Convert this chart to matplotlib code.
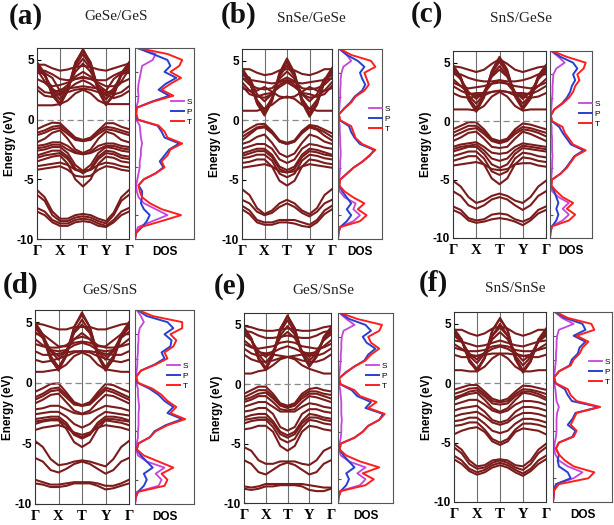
import numpy as np
import matplotlib
matplotlib.use('Agg')
import matplotlib.pyplot as plt

plt.rcParams['font.family'] = ['Liberation Sans', 'DejaVu Sans']

# ---------------- data ----------------
# k-path Γ - X - T - Y - Γ, three steps per segment
kpath = [0, 1/3, 2/3, 1, 4/3, 5/3, 2, 7/3, 8/3, 3, 10/3, 11/3, 4]
klabels = ['Γ', 'X', 'T', 'Y', 'Γ']
energy = np.arange(-10, 6.01, 0.5)                    # DOS energy grid (eV)

# (a) GeSe/GeS
a_cb = [[4.8, 3.9, 2.1, 1.2, 2.4, 4.7, 5.9, 4.7, 2.4, 1.2, 2.1, 3.9, 4.8],
        [4.7, 3.8, 2.0, 1.3, 2.5, 4.8, 5.8, 4.8, 2.5, 1.3, 2.0, 3.8, 4.7],
        [4.6, 3.8, 2.2, 1.4, 2.4, 4.5, 5.5, 4.5, 2.4, 1.3, 2.1, 3.8, 4.6],
        [4.4, 3.7, 2.4, 1.7, 2.6, 4.3, 5.1, 4.3, 2.6, 1.7, 2.4, 3.8, 4.5],
        [4.3, 3.7, 2.6, 2.0, 2.7, 4.0, 4.7, 4.0, 2.7, 2.0, 2.6, 3.7, 4.3],
        [4.0, 4.1, 3.8, 3.4, 3.3, 3.4, 3.6, 3.4, 3.3, 3.3, 3.7, 4.0, 4.0],
        [3.9, 3.9, 3.5, 2.4, 2.9, 3.6, 4.0, 3.6, 2.9, 2.4, 3.4, 3.9, 3.9],
        [4.2, 3.2, 2.8, 2.9, 3.1, 3.4, 3.5, 3.4, 3.1, 2.8, 2.8, 3.2, 4.2],
        [3.4, 3.1, 2.5, 2.3, 2.5, 3.0, 3.3, 3.0, 2.5, 2.2, 2.5, 3.1, 3.4],
        [2.8, 2.3, 2.2, 2.5, 2.6, 2.7, 2.8, 2.7, 2.6, 2.4, 2.1, 2.3, 2.8],
        [2.5, 2.0, 1.9, 2.2, 2.3, 2.5, 2.6, 2.5, 2.3, 2.1, 1.8, 2.0, 2.4],
        [4.6, 4.6, 4.3, 4.1, 4.2, 4.4, 4.5, 4.4, 4.2, 4.1, 4.3, 4.5, 4.7],
        [1.2, 1.2, 1.2, 1.3, 1.6, 2.2, 2.5, 2.2, 1.6, 1.3, 1.3, 1.3, 1.3]]
a_vb = [[-0.8, -0.5, -0.25, -0.3, -0.9, -1.5, -1.7, -1.5, -0.9, -0.3, -0.3, -0.6, -0.8],
        [-1.1, -0.9, -0.6, -0.5, -1.0, -1.6, -1.8, -1.6, -1.0, -0.6, -0.7, -0.9, -1.1],
        [-1.3, -1.1, -0.8, -0.7, -1.2, -1.7, -1.8, -1.7, -1.2, -0.8, -0.9, -1.1, -1.3],
        [-1.9, -1.6, -1.1, -0.9, -1.6, -2.5, -2.8, -2.5, -1.6, -1.0, -1.2, -1.7, -1.9],
        [-2.2, -2.1, -1.9, -1.9, -2.2, -2.7, -2.9, -2.7, -2.2, -2.0, -2.0, -2.2, -2.3],
        [-2.4, -2.3, -2.1, -2.1, -2.5, -2.8, -2.9, -2.8, -2.5, -2.2, -2.2, -2.4, -2.5],
        [-2.6, -2.5, -2.3, -2.3, -2.8, -3.8, -4.3, -3.8, -2.8, -2.3, -2.4, -2.6, -2.7],
        [-3.0, -2.8, -2.6, -2.6, -3.1, -4.1, -4.5, -4.1, -3.1, -2.6, -2.7, -3.0, -3.1],
        [-3.2, -3.0, -2.9, -2.8, -3.3, -4.2, -4.4, -4.2, -3.3, -2.8, -2.9, -3.2, -3.3],
        [-3.5, -3.3, -3.1, -3.0, -3.7, -5.0, -5.6, -5.0, -3.7, -3.1, -3.2, -3.5, -3.6],
        [-3.9, -3.8, -3.7, -3.6, -3.8, -4.2, -4.3, -4.2, -3.8, -3.6, -3.7, -3.9, -4.0],
        [-4.2, -4.1, -4.0, -3.9, -4.2, -4.7, -4.8, -4.7, -4.2, -3.9, -4.0, -4.2, -4.3],
        [-5.9, -6.5, -7.7, -8.3, -8.3, -8.0, -7.9, -8.0, -8.3, -8.5, -7.8, -6.5, -5.9],
        [-6.3, -6.8, -8.0, -8.5, -8.5, -8.2, -8.1, -8.2, -8.5, -8.7, -8.0, -6.8, -6.3],
        [-7.4, -7.7, -8.4, -8.7, -8.7, -8.4, -8.3, -8.4, -8.7, -8.9, -8.4, -7.7, -7.4],
        [-7.7, -8.0, -8.6, -8.9, -8.9, -8.6, -8.5, -8.6, -8.9, -9.0, -8.6, -8.0, -7.7]]
a_dos_t = [0, 0.02, 0.1, 0.45, 0.78, 0.45, 0.25, 0.12, 0.08, 0.06, 0.15, 0.35, 0.5, 0.45, 0.55, 0.6, 0.8,
           0.55, 0.5, 0.4, 0.05, 0.02, 0.03, 0.3, 0.65, 0.45, 0.6, 0.78, 0.6, 0.75, 0.8, 0.55, 0.05]
a_dos_p = [0, 0.02, 0.12, 0.2, 0.25, 0.15, 0.1, 0.12, 0.12, 0.06, 0.15, 0.35, 0.48, 0.42, 0.5, 0.58, 0.75,
           0.5, 0.45, 0.38, 0.04, 0.02, 0.03, 0.28, 0.58, 0.4, 0.52, 0.7, 0.5, 0.6, 0.55, 0.3, 0.04]
a_dos_s = [0, 0.01, 0.05, 0.3, 0.55, 0.35, 0.15, 0.06, 0.03, 0.02, 0.04, 0.06, 0.08, 0.08, 0.1, 0.1, 0.12,
           0.1, 0.09, 0.08, 0.02, 0.01, 0.02, 0.05, 0.06, 0.05, 0.06, 0.08, 0.1, 0.12, 0.3, 0.35, 0.05]

# (b) SnSe/GeSe
b_cb = [[4.4, 3.4, 1.4, 0.4, 1.6, 4.0, 5.2, 4.0, 1.5, 0.3, 1.3, 3.4, 4.4],
        [4.1, 3.2, 1.6, 0.7, 1.9, 3.9, 5.0, 3.9, 1.8, 0.6, 1.5, 3.2, 4.1],
        [4.2, 3.3, 1.5, 0.6, 1.7, 3.8, 4.9, 3.8, 1.6, 0.5, 1.4, 3.3, 4.2],
        [4.0, 3.2, 1.7, 0.9, 1.8, 3.7, 4.6, 3.7, 1.8, 0.9, 1.7, 3.2, 4.0],
        [3.8, 3.6, 2.2, 1.6, 2.2, 3.5, 4.1, 3.5, 2.2, 1.6, 2.2, 3.5, 3.8],
        [3.5, 3.4, 3.3, 3.2, 3.1, 3.2, 3.4, 3.2, 3.1, 3.2, 3.3, 3.4, 3.5],
        [3.6, 3.0, 2.7, 2.6, 2.7, 3.3, 3.6, 3.3, 2.7, 2.6, 2.7, 3.0, 3.6],
        [3.2, 2.5, 2.0, 1.9, 2.2, 3.0, 3.3, 3.0, 2.2, 1.9, 2.0, 2.5, 3.2],
        [2.9, 2.2, 2.0, 2.2, 2.3, 2.8, 3.2, 2.8, 2.3, 2.2, 2.0, 2.2, 2.9],
        [2.7, 2.5, 2.5, 2.8, 2.4, 2.0, 1.9, 2.0, 2.4, 2.8, 2.5, 2.5, 2.7],
        [0.8, 0.8, 0.8, 1.0, 1.3, 1.8, 2.0, 1.8, 1.3, 1.0, 0.8, 0.8, 0.8],
        [4.3, 4.3, 4.0, 3.8, 3.9, 4.2, 4.3, 4.2, 3.9, 3.8, 4.0, 4.3, 4.3]]
b_vb = [[-1.1, -0.7, -0.35, -0.3, -0.9, -1.7, -1.9, -1.7, -0.9, -0.4, -0.5, -0.8, -1.1],
        [-1.4, -1.0, -0.6, -0.5, -1.0, -1.8, -2.0, -1.8, -1.0, -0.5, -0.7, -1.0, -1.4],
        [-1.7, -1.2, -0.7, -0.6, -1.1, -1.8, -2.0, -1.8, -1.1, -0.6, -0.8, -1.3, -1.7],
        [-2.0, -1.8, -1.4, -1.2, -1.9, -2.8, -3.1, -2.8, -1.9, -1.2, -1.4, -1.8, -2.0],
        [-2.4, -2.2, -2.0, -2.0, -2.4, -3.3, -3.6, -3.3, -2.4, -2.0, -2.1, -2.3, -2.4],
        [-2.8, -2.6, -2.4, -2.4, -2.9, -3.9, -4.2, -3.9, -2.9, -2.4, -2.5, -2.7, -2.9],
        [-3.0, -2.8, -2.6, -2.6, -3.1, -4.1, -4.4, -4.1, -3.1, -2.6, -2.7, -2.9, -3.0],
        [-3.2, -3.1, -2.9, -2.9, -3.4, -4.5, -4.8, -4.5, -3.4, -2.9, -3.0, -3.2, -3.3],
        [-3.6, -3.5, -3.3, -3.3, -3.9, -5.1, -5.5, -5.1, -3.9, -3.3, -3.4, -3.6, -3.7],
        [-4.0, -3.9, -3.8, -3.7, -3.9, -4.3, -4.4, -4.3, -3.9, -3.7, -3.8, -3.9, -4.0],
        [-5.8, -6.3, -7.4, -7.9, -7.6, -7.0, -6.7, -7.0, -7.6, -7.9, -7.4, -6.3, -5.8],
        [-6.7, -7.0, -7.7, -8.0, -7.8, -7.3, -7.0, -7.3, -7.8, -8.1, -7.7, -7.0, -6.7],
        [-7.2, -7.6, -8.4, -8.6, -8.6, -8.4, -8.4, -8.4, -8.6, -8.8, -8.4, -7.6, -7.2],
        [-7.5, -7.9, -8.6, -8.8, -8.8, -8.6, -8.6, -8.7, -8.9, -9.0, -8.6, -7.9, -7.5]]
b_dos_t = [0, 0.01, 0.05, 0.5, 0.65, 0.45, 0.6, 0.35, 0.15, 0.03, 0.05, 0.2, 0.35, 0.55, 0.7, 0.85, 0.55,
           0.4, 0.35, 0.3, 0.05, 0.02, 0.15, 0.3, 0.4, 0.6, 0.7, 0.65, 0.6, 0.85, 0.75, 0.3, 0.05]
b_dos_p = [0, 0.01, 0.05, 0.2, 0.3, 0.2, 0.3, 0.2, 0.1, 0.03, 0.05, 0.2, 0.35, 0.55, 0.72, 0.82, 0.5,
           0.38, 0.3, 0.25, 0.04, 0.02, 0.14, 0.28, 0.38, 0.55, 0.62, 0.55, 0.5, 0.6, 0.45, 0.2, 0.04]
b_dos_s = [0, 0.01, 0.03, 0.35, 0.5, 0.35, 0.4, 0.15, 0.04, 0.02, 0.03, 0.04, 0.05, 0.05, 0.06, 0.06, 0.05,
           0.05, 0.04, 0.04, 0.02, 0.01, 0.03, 0.04, 0.05, 0.05, 0.06, 0.06, 0.08, 0.12, 0.3, 0.2, 0.03]

# (c) SnS/GeSe
c_cb = [[4.8, 3.8, 1.8, 0.8, 2.0, 4.3, 5.5, 4.4, 2.1, 1.0, 1.9, 3.9, 4.8],
        [4.5, 3.6, 1.9, 1.0, 2.2, 4.2, 5.2, 4.2, 2.2, 1.1, 2.0, 3.6, 4.5],
        [4.6, 3.7, 2.0, 1.1, 2.1, 4.1, 5.1, 4.1, 2.2, 1.2, 2.1, 3.8, 4.6],
        [4.4, 3.6, 2.2, 1.5, 2.3, 3.9, 4.7, 3.9, 2.3, 1.5, 2.2, 3.7, 4.4],
        [4.2, 3.6, 2.5, 1.9, 2.5, 3.8, 4.4, 3.8, 2.5, 1.9, 2.5, 3.6, 4.2],
        [4.0, 4.0, 3.7, 3.5, 3.4, 3.4, 3.5, 3.4, 3.4, 3.5, 3.7, 4.0, 4.0],
        [3.6, 3.0, 2.4, 2.2, 2.4, 3.2, 3.5, 3.2, 2.4, 2.2, 2.4, 3.0, 3.6],
        [3.3, 3.0, 2.8, 2.9, 3.0, 3.2, 3.3, 3.2, 3.0, 2.9, 2.8, 3.0, 3.3],
        [3.0, 2.6, 2.3, 2.4, 2.4, 2.5, 2.6, 2.5, 2.4, 2.4, 2.3, 2.6, 3.0],
        [2.4, 2.1, 2.0, 2.1, 2.2, 2.5, 2.6, 2.5, 2.2, 2.1, 2.0, 2.1, 2.4],
        [1.0, 1.0, 1.0, 0.9, 1.3, 2.1, 2.5, 2.1, 1.3, 0.9, 1.0, 1.0, 1.0],
        [4.7, 4.6, 4.4, 4.2, 4.4, 4.9, 5.3, 4.9, 4.4, 4.2, 4.4, 4.6, 4.7]]
c_vb = [[-0.7, -0.4, -0.1, -0.1, -0.7, -1.5, -1.7, -1.5, -0.7, -0.2, -0.3, -0.5, -0.7],
        [-1.0, -0.7, -0.4, -0.4, -0.9, -1.6, -1.8, -1.6, -0.9, -0.5, -0.6, -0.8, -1.0],
        [-1.3, -1.0, -0.7, -0.6, -1.1, -1.7, -1.9, -1.7, -1.1, -0.7, -0.8, -1.0, -1.3],
        [-1.7, -1.4, -1.0, -0.9, -1.5, -2.2, -2.3, -2.2, -1.5, -0.9, -1.1, -1.4, -1.7],
        [-2.2, -2.0, -1.9, -1.8, -2.2, -2.7, -2.8, -2.7, -2.2, -1.9, -2.0, -2.1, -2.2],
        [-2.4, -2.2, -2.1, -2.0, -2.5, -3.2, -3.4, -3.2, -2.5, -2.1, -2.2, -2.3, -2.4],
        [-2.6, -2.4, -2.2, -2.2, -2.8, -3.7, -4.0, -3.7, -2.8, -2.3, -2.4, -2.5, -2.6],
        [-3.0, -2.8, -2.6, -2.6, -3.2, -4.3, -4.6, -4.3, -3.2, -2.7, -2.8, -3.0, -3.1],
        [-3.4, -3.2, -3.0, -3.0, -3.7, -4.9, -5.4, -4.9, -3.7, -3.1, -3.2, -3.4, -3.5],
        [-3.8, -3.7, -3.6, -3.5, -3.7, -4.1, -4.2, -4.1, -3.7, -3.6, -3.6, -3.8, -3.9],
        [-5.1, -5.6, -6.5, -7.0, -6.8, -6.4, -6.2, -6.4, -6.8, -7.0, -6.5, -5.6, -5.1],
        [-6.0, -6.4, -7.2, -7.5, -7.2, -6.7, -6.5, -6.7, -7.2, -7.6, -7.2, -6.4, -6.0],
        [-7.3, -7.6, -8.3, -8.5, -8.4, -8.0, -7.9, -8.0, -8.4, -8.6, -8.3, -7.6, -7.3],
        [-7.6, -7.9, -8.5, -8.7, -8.6, -8.4, -8.3, -8.4, -8.6, -8.9, -8.5, -7.9, -7.6]]
c_dos_t = [0, 0.01, 0.05, 0.45, 0.6, 0.4, 0.55, 0.3, 0.15, 0.03, 0.05, 0.25, 0.4, 0.5, 0.6, 0.85, 0.55,
           0.45, 0.35, 0.3, 0.05, 0.02, 0.1, 0.3, 0.45, 0.55, 0.6, 0.7, 0.65, 0.8, 0.85, 0.4, 0.05]
c_dos_p = [0, 0.01, 0.05, 0.15, 0.2, 0.15, 0.2, 0.15, 0.1, 0.03, 0.05, 0.25, 0.38, 0.48, 0.58, 0.8, 0.5,
           0.4, 0.3, 0.22, 0.04, 0.02, 0.1, 0.28, 0.4, 0.48, 0.52, 0.6, 0.55, 0.65, 0.55, 0.25, 0.04]
c_dos_s = [0, 0.01, 0.03, 0.3, 0.45, 0.3, 0.45, 0.2, 0.05, 0.02, 0.03, 0.04, 0.05, 0.05, 0.06, 0.05, 0.05,
           0.05, 0.04, 0.04, 0.02, 0.01, 0.03, 0.04, 0.05, 0.06, 0.06, 0.07, 0.08, 0.15, 0.35, 0.2, 0.03]

# (d) GeS/SnS
d_cb = [[5.0, 4.0, 2.0, 1.0, 2.2, 4.6, 5.8, 4.6, 2.2, 1.0, 2.0, 4.0, 5.0],
        [4.7, 3.7, 1.9, 1.1, 2.4, 4.6, 5.6, 4.6, 2.4, 1.1, 1.9, 3.7, 4.7],
        [4.8, 3.9, 2.2, 1.3, 2.3, 4.2, 5.2, 4.2, 2.3, 1.3, 2.2, 3.9, 4.8],
        [4.5, 3.9, 2.6, 1.9, 2.6, 4.1, 4.8, 4.1, 2.6, 1.9, 2.6, 3.9, 4.5],
        [4.2, 3.7, 2.7, 2.2, 2.7, 3.6, 4.1, 3.6, 2.7, 2.2, 2.7, 3.7, 4.2],
        [4.0, 4.0, 3.5, 3.0, 3.0, 3.3, 3.4, 3.3, 3.0, 3.0, 3.5, 4.0, 4.0],
        [3.6, 3.1, 2.7, 2.6, 2.7, 3.1, 3.3, 3.1, 2.7, 2.6, 2.7, 3.1, 3.6],
        [3.2, 3.0, 2.9, 2.9, 3.1, 3.6, 3.8, 3.6, 3.1, 2.9, 2.9, 3.0, 3.2],
        [2.6, 2.3, 2.3, 2.4, 2.5, 2.6, 2.6, 2.6, 2.5, 2.4, 2.3, 2.3, 2.6],
        [1.9, 1.7, 1.8, 2.0, 2.2, 2.5, 2.6, 2.5, 2.2, 2.0, 1.8, 1.7, 1.9],
        [0.9, 0.9, 1.0, 1.1, 1.5, 2.2, 2.5, 2.2, 1.5, 1.1, 1.0, 0.9, 0.9],
        [4.9, 4.8, 4.6, 4.4, 4.4, 4.6, 4.6, 4.6, 4.4, 4.4, 4.6, 4.8, 4.9]]
d_vb = [[-0.75, -0.45, -0.1, -0.05, -0.8, -1.6, -1.85, -1.6, -0.8, -0.1, -0.2, -0.5, -0.75],
        [-1.2, -0.9, -0.5, -0.4, -1.0, -1.7, -1.9, -1.7, -1.0, -0.4, -0.6, -0.9, -1.2],
        [-1.4, -1.1, -0.7, -0.6, -1.2, -1.8, -1.9, -1.8, -1.2, -0.6, -0.8, -1.1, -1.4],
        [-1.7, -1.4, -1.0, -0.9, -1.6, -2.3, -2.55, -2.3, -1.6, -1.0, -1.1, -1.4, -1.7],
        [-2.2, -2.1, -1.9, -1.9, -2.2, -2.5, -2.6, -2.5, -2.2, -1.9, -2.0, -2.1, -2.3],
        [-2.6, -2.5, -2.4, -2.4, -2.8, -3.4, -3.7, -3.4, -2.8, -2.4, -2.5, -2.6, -2.7],
        [-3.0, -2.9, -2.8, -2.8, -3.3, -4.2, -4.5, -4.2, -3.3, -2.8, -2.8, -2.9, -3.1],
        [-3.2, -3.1, -3.0, -3.0, -3.5, -4.3, -4.6, -4.3, -3.5, -3.0, -3.0, -3.1, -3.2],
        [-3.4, -3.2, -3.1, -3.1, -3.8, -4.9, -5.3, -4.9, -3.8, -3.1, -3.2, -3.3, -3.5],
        [-3.9, -3.7, -3.6, -3.5, -3.7, -4.1, -4.3, -4.1, -3.7, -3.5, -3.6, -3.7, -3.9],
        [-4.8, -5.3, -6.3, -6.8, -6.7, -6.5, -6.4, -6.5, -6.7, -6.9, -6.3, -5.3, -4.8],
        [-6.2, -6.5, -7.2, -7.4, -7.1, -6.7, -6.5, -6.7, -7.1, -7.5, -7.2, -6.5, -6.2],
        [-8.0, -8.2, -8.4, -8.4, -8.3, -8.2, -8.2, -8.2, -8.3, -8.5, -8.5, -8.3, -8.0],
        [-8.3, -8.4, -8.6, -8.6, -8.5, -8.3, -8.3, -8.3, -8.5, -8.8, -8.7, -8.5, -8.3]]
d_dos_t = [0, 0.01, 0.05, 0.5, 0.55, 0.45, 0.65, 0.4, 0.15, 0.03, 0.06, 0.25, 0.35, 0.55, 0.85, 0.6, 0.7,
           0.55, 0.45, 0.3, 0.05, 0.02, 0.1, 0.35, 0.55, 0.5, 0.65, 0.7, 0.6, 0.8, 0.8, 0.3, 0.05]
d_dos_p = [0, 0.01, 0.05, 0.15, 0.2, 0.15, 0.3, 0.2, 0.1, 0.03, 0.06, 0.25, 0.33, 0.52, 0.8, 0.55, 0.65,
           0.5, 0.4, 0.25, 0.04, 0.02, 0.1, 0.33, 0.5, 0.45, 0.6, 0.62, 0.5, 0.65, 0.55, 0.2, 0.04]
d_dos_s = [0, 0.01, 0.03, 0.4, 0.45, 0.35, 0.5, 0.2, 0.05, 0.02, 0.03, 0.05, 0.05, 0.06, 0.06, 0.06, 0.07,
           0.06, 0.05, 0.05, 0.02, 0.01, 0.03, 0.04, 0.04, 0.05, 0.05, 0.06, 0.06, 0.08, 0.15, 0.1, 0.03]

# (e) GeS/SnSe
e_cb = [[4.8, 3.9, 2.1, 1.2, 2.4, 4.6, 5.8, 4.7, 2.6, 1.5, 2.3, 4.0, 4.8],
        [4.7, 3.8, 2.2, 1.3, 2.5, 4.7, 5.7, 4.7, 2.6, 1.5, 2.3, 3.9, 4.7],
        [4.6, 3.8, 2.2, 1.4, 2.4, 4.4, 5.4, 4.4, 2.6, 1.6, 2.4, 3.9, 4.6],
        [4.4, 3.8, 2.5, 1.8, 2.6, 4.1, 4.9, 4.2, 2.7, 2.0, 2.6, 3.8, 4.4],
        [4.2, 3.7, 2.8, 2.3, 2.8, 3.9, 4.4, 3.9, 2.8, 2.3, 2.8, 3.7, 4.2],
        [4.5, 4.4, 4.1, 3.9, 3.9, 4.0, 4.1, 4.0, 3.9, 3.9, 4.1, 4.4, 4.5],
        [3.7, 3.2, 2.7, 2.6, 2.7, 3.0, 3.2, 3.0, 2.7, 2.6, 2.7, 3.2, 3.7],
        [3.4, 3.1, 3.0, 3.1, 3.2, 3.5, 3.6, 3.5, 3.2, 3.1, 3.0, 3.1, 3.4],
        [3.0, 2.6, 2.4, 2.5, 2.5, 2.4, 2.3, 2.4, 2.5, 2.5, 2.4, 2.6, 3.0],
        [2.5, 2.1, 1.9, 1.9, 2.0, 2.2, 2.3, 2.2, 2.0, 1.9, 1.9, 2.1, 2.5],
        [0.9, 0.9, 1.1, 1.2, 1.6, 2.1, 2.3, 2.1, 1.6, 1.3, 1.1, 0.9, 0.9],
        [4.9, 4.8, 4.6, 4.5, 4.5, 4.6, 4.7, 4.6, 4.5, 4.5, 4.6, 4.8, 4.9]]
e_vb = [[-0.8, -0.5, -0.2, -0.2, -0.8, -1.6, -1.8, -1.6, -0.8, -0.4, -0.3, -0.5, -0.6],
        [-1.1, -0.8, -0.5, -0.5, -1.0, -1.7, -1.9, -1.7, -1.0, -0.6, -0.6, -0.8, -0.9],
        [-1.3, -1.1, -0.8, -0.7, -1.2, -1.8, -2.0, -1.8, -1.2, -0.8, -0.8, -1.0, -1.2],
        [-1.5, -1.3, -1.0, -1.0, -1.5, -2.1, -2.2, -2.1, -1.5, -1.0, -1.1, -1.3, -1.5],
        [-1.9, -1.7, -1.5, -1.5, -1.9, -2.3, -2.3, -2.3, -1.9, -1.6, -1.7, -1.9, -2.0],
        [-2.3, -2.2, -2.0, -2.0, -2.5, -3.6, -3.9, -3.6, -2.5, -2.1, -2.1, -2.3, -2.4],
        [-2.8, -2.6, -2.5, -2.5, -3.1, -4.0, -4.3, -4.0, -3.1, -2.5, -2.6, -2.8, -2.9],
        [-3.0, -2.9, -2.8, -2.8, -3.3, -4.2, -4.5, -4.2, -3.3, -2.8, -2.8, -3.0, -3.1],
        [-3.3, -3.1, -3.0, -3.0, -3.6, -4.6, -4.9, -4.6, -3.6, -3.0, -3.1, -3.3, -3.4],
        [-3.8, -3.7, -3.5, -3.5, -4.0, -5.2, -5.6, -5.2, -4.0, -3.5, -3.6, -3.8, -3.9],
        [-5.3, -5.6, -6.4, -6.7, -6.7, -6.5, -6.5, -6.5, -6.7, -6.8, -6.4, -5.6, -5.3],
        [-6.4, -6.7, -7.4, -7.6, -7.2, -6.8, -6.6, -6.8, -7.2, -7.6, -7.4, -6.7, -6.4],
        [-8.6, -8.7, -8.6, -8.4, -8.4, -8.4, -8.4, -8.4, -8.4, -8.5, -8.6, -8.7, -8.7],
        [-8.8, -8.9, -8.8, -8.6, -8.6, -8.5, -8.5, -8.5, -8.6, -8.9, -9.0, -9.0, -8.8]]
e_dos_t = [0, 0.01, 0.05, 0.5, 0.65, 0.45, 0.75, 0.4, 0.15, 0.03, 0.05, 0.3, 0.45, 0.55, 0.75, 0.85, 0.55,
           0.7, 0.4, 0.3, 0.05, 0.02, 0.15, 0.3, 0.5, 0.6, 0.75, 0.6, 0.55, 0.75, 0.8, 0.35, 0.05]
e_dos_p = [0, 0.01, 0.05, 0.15, 0.2, 0.15, 0.3, 0.2, 0.1, 0.03, 0.05, 0.3, 0.45, 0.55, 0.75, 0.82, 0.5,
           0.6, 0.35, 0.25, 0.04, 0.02, 0.14, 0.3, 0.48, 0.55, 0.68, 0.52, 0.45, 0.6, 0.5, 0.2, 0.04]
e_dos_s = [0, 0.01, 0.03, 0.4, 0.5, 0.35, 0.5, 0.2, 0.05, 0.02, 0.03, 0.05, 0.06, 0.06, 0.07, 0.06, 0.06,
           0.06, 0.05, 0.04, 0.02, 0.01, 0.03, 0.04, 0.05, 0.05, 0.06, 0.06, 0.07, 0.1, 0.3, 0.15, 0.03]

# (f) SnS/SnSe
f_cb = [[4.6, 3.7, 1.9, 1.0, 2.1, 4.4, 5.5, 4.4, 2.0, 0.9, 1.8, 3.7, 4.6],
        [4.5, 3.6, 1.8, 1.1, 2.2, 4.5, 5.4, 4.5, 2.1, 1.0, 1.9, 3.6, 4.5],
        [4.4, 3.6, 2.0, 1.2, 2.1, 4.0, 5.0, 4.0, 2.1, 1.1, 1.9, 3.6, 4.4],
        [4.2, 3.6, 2.3, 1.7, 2.5, 4.0, 4.7, 4.0, 2.3, 1.5, 2.2, 3.5, 4.2],
        [4.0, 3.5, 2.5, 2.0, 2.6, 3.7, 4.3, 3.7, 2.6, 1.9, 2.4, 3.5, 4.0],
        [3.6, 3.5, 3.3, 3.1, 3.2, 3.4, 3.6, 3.4, 3.2, 3.1, 3.3, 3.5, 3.6],
        [3.3, 2.9, 2.4, 2.3, 2.5, 2.9, 3.1, 2.9, 2.5, 2.3, 2.4, 2.9, 3.3],
        [3.0, 2.8, 2.7, 2.7, 2.8, 3.1, 3.2, 3.1, 2.8, 2.7, 2.7, 2.8, 3.0],
        [2.4, 2.2, 2.2, 2.3, 2.4, 2.5, 2.5, 2.5, 2.4, 2.3, 2.2, 2.2, 2.4],
        [1.1, 1.1, 1.0, 1.0, 1.4, 2.1, 2.5, 2.1, 1.4, 1.0, 1.0, 1.1, 1.1],
        [4.5, 4.5, 4.2, 4.0, 4.2, 4.6, 4.8, 4.6, 4.2, 4.0, 4.2, 4.5, 4.5]]
f_vb = [[-0.55, -0.35, -0.15, -0.15, -0.7, -1.3, -1.5, -1.3, -0.7, -0.2, -0.25, -0.4, -0.55],
        [-0.9, -0.7, -0.45, -0.4, -0.9, -1.5, -1.6, -1.5, -0.9, -0.5, -0.55, -0.7, -0.9],
        [-1.2, -1.0, -0.7, -0.6, -1.1, -1.7, -1.8, -1.7, -1.1, -0.7, -0.7, -0.9, -1.2],
        [-1.4, -1.1, -0.9, -0.8, -1.4, -2.1, -2.4, -2.1, -1.4, -0.8, -0.9, -1.1, -1.4],
        [-1.8, -1.6, -1.4, -1.4, -1.8, -2.3, -2.5, -2.3, -1.8, -1.5, -1.5, -1.6, -1.8],
        [-2.3, -2.1, -2.0, -1.9, -2.4, -3.1, -3.3, -3.1, -2.4, -2.0, -2.0, -2.1, -2.3],
        [-2.8, -2.6, -2.5, -2.4, -2.8, -3.3, -3.5, -3.3, -2.8, -2.5, -2.5, -2.6, -2.8],
        [-3.2, -3.1, -2.9, -2.9, -3.4, -4.0, -4.2, -4.0, -3.4, -3.0, -3.0, -3.1, -3.3],
        [-3.6, -3.5, -3.3, -3.3, -3.9, -4.7, -5.0, -4.7, -3.9, -3.4, -3.4, -3.5, -3.7],
        [-4.3, -4.0, -3.8, -3.7, -4.1, -4.9, -5.2, -4.9, -4.1, -3.8, -3.9, -4.0, -4.3],
        [-5.1, -5.6, -6.5, -7.0, -6.9, -6.5, -6.4, -6.5, -6.9, -7.0, -6.5, -5.6, -5.1],
        [-5.4, -5.9, -6.8, -7.2, -7.1, -6.7, -6.5, -6.7, -7.1, -7.3, -6.8, -5.9, -5.4],
        [-6.1, -6.5, -7.2, -7.5, -7.3, -6.9, -6.7, -6.9, -7.3, -7.6, -7.2, -6.5, -6.1],
        [-6.4, -6.8, -7.4, -7.7, -7.5, -7.1, -6.9, -7.1, -7.5, -7.8, -7.4, -6.8, -6.4]]
f_dos_t = [0, 0.01, 0.02, 0.1, 0.6, 0.7, 0.35, 0.2, 0.1, 0.05, 0.1, 0.35, 0.4, 0.3, 0.35, 0.4, 0.8,
           0.4, 0.3, 0.25, 0.05, 0.02, 0.1, 0.3, 0.35, 0.45, 0.5, 0.6, 0.4, 0.7, 0.65, 0.25, 0.05]
f_dos_p = [0, 0.01, 0.02, 0.05, 0.3, 0.25, 0.1, 0.08, 0.1, 0.05, 0.1, 0.33, 0.38, 0.25, 0.33, 0.38, 0.78,
           0.32, 0.25, 0.2, 0.04, 0.02, 0.1, 0.28, 0.32, 0.42, 0.45, 0.55, 0.35, 0.55, 0.5, 0.2, 0.04]
f_dos_s = [0, 0.01, 0.02, 0.05, 0.35, 0.5, 0.25, 0.1, 0.04, 0.02, 0.03, 0.05, 0.06, 0.06, 0.06, 0.07, 0.1,
           0.06, 0.05, 0.04, 0.02, 0.01, 0.03, 0.04, 0.05, 0.05, 0.06, 0.06, 0.07, 0.1, 0.35, 0.15, 0.03]

# ---------------- figure ----------------
W, H = 614, 525
fig = plt.figure(figsize=(W / 100, H / 100), dpi=100)
fig.patch.set_facecolor('white')

band_col = '#7a1c1c'
col_s, col_p, col_t = '#c445dc', '#2840d0', '#ff1f1f'


def px_rect(x0, y0, x1, y1):
    # pixel box (top-left origin) -> figure fraction
    return [x0 / W, 1 - y1 / H, (x1 - x0) / W, (y1 - y0) / H]


def draw_panel(band_box, dos_box, cb, vb, d_t, d_p, d_s, leg_xy):
    ax = fig.add_axes(px_rect(*band_box))
    for b in cb + vb:
        ax.plot(kpath, b, color=band_col, lw=1.5, solid_joinstyle='round')
    for k in [1, 2, 3]:
        ax.axvline(k, color='#6e6e6e', lw=0.8, zorder=0)
    ax.axhline(0, color='#8a8a8a', lw=0.9, ls=(0, (5, 3)))
    ax.set_xlim(0, 4)
    ax.set_ylim(-10, 6)
    ax.set_yticks([-10, -5, 0, 5])
    ax.set_yticklabels(['-10', '-5', '0', '5'], fontsize=8.5, fontweight='bold')
    ax.set_xticks([0, 1, 2, 3, 4])
    ax.set_xticklabels(klabels, family=['Liberation Serif', 'DejaVu Serif'],
                       fontsize=10.5, fontweight='bold')
    ax.tick_params(axis='x', length=0, pad=4)
    ax.tick_params(axis='y', direction='in', length=3, pad=2)
    ax.set_ylabel('Energy (eV)', fontsize=8.5, fontweight='bold', labelpad=1)
    for sp in ax.spines.values():
        sp.set_color('#333333')
        sp.set_linewidth(0.8)

    ad = fig.add_axes(px_rect(*dos_box))
    ad.plot(d_s, energy, color=col_s, lw=1.3, label='S')
    ad.plot(d_p, energy, color=col_p, lw=1.4, label='P')
    ad.plot(d_t, energy, color=col_t, lw=1.4, label='T')
    ad.set_xlim(0, 1)
    ad.set_ylim(-10, 6)
    ad.set_xticks([])
    ad.set_yticks([-8, -4, 2, 4])
    ad.set_yticklabels([])
    ad.tick_params(axis='y', direction='in', length=2.5, color='#555555')
    ad.set_xlabel('DOS', fontsize=8.5, fontweight='bold', labelpad=5)
    for sp in ad.spines.values():
        sp.set_color('#555555')
        sp.set_linewidth(0.8)
    fig.legend(*ad.get_legend_handles_labels(), loc='upper left',
               bbox_to_anchor=(leg_xy[0] / W, 1 - leg_xy[1] / H),
               frameon=False, fontsize=6, handlelength=1.6, handletextpad=0.3,
               labelspacing=0.25, borderpad=0, borderaxespad=0)


panels = [
    ((37, 48, 129, 239), (135, 48, 194, 239), a_cb, a_vb, a_dos_t, a_dos_p, a_dos_s, (171, 98)),
    ((242, 49, 332, 239), (338, 49, 382, 239), b_cb, b_vb, b_dos_t, b_dos_p, b_dos_s, (369, 105)),
    ((453, 51, 546, 238), (550, 51, 592, 238), c_cb, c_vb, c_dos_t, c_dos_p, c_dos_s, (579, 100)),
    ((35, 310, 129, 504), (135, 310, 194, 504), d_cb, d_vb, d_dos_t, d_dos_p, d_dos_s, (167, 362)),
    ((244, 313, 331, 503), (338, 313, 393, 503), e_cb, e_vb, e_dos_t, e_dos_p, e_dos_s, (366, 362)),
    ((454, 312, 546, 502), (553, 312, 612, 502), f_cb, f_vb, f_dos_t, f_dos_p, f_dos_s, (589, 358)),
]
for p in panels:
    draw_panel(*p)

# panel letters and titles
letters = ['(a)', '(b)', '(c)', '(d)', '(e)', '(f)']
letter_xy = [(9, 16), (221, 15), (411, 15), (3, 285), (214, 287), (419, 283)]
titles = ['GeSe/GeS', 'SnSe/GeSe', 'SnS/GeSe', 'GeS/SnS', 'GeS/SnSe', 'SnS/SnSe']
title_xy = [(116, 17), (311, 18), (521, 18), (110, 290), (323, 290), (515, 289)]
serif = ['Liberation Serif', 'DejaVu Serif']
for s, (x, y) in zip(letters, letter_xy):
    fig.text(x / W, 1 - y / H, s, family=serif, fontsize=21, fontweight='bold',
             ha='left', va='center', color='#111111')
for s, (x, y) in zip(titles, title_xy):
    fig.text(x / W, 1 - y / H, s, family=serif, fontsize=11, ha='center', va='center',
             color='#222222')

fig.savefig('out.png', dpi=100)
